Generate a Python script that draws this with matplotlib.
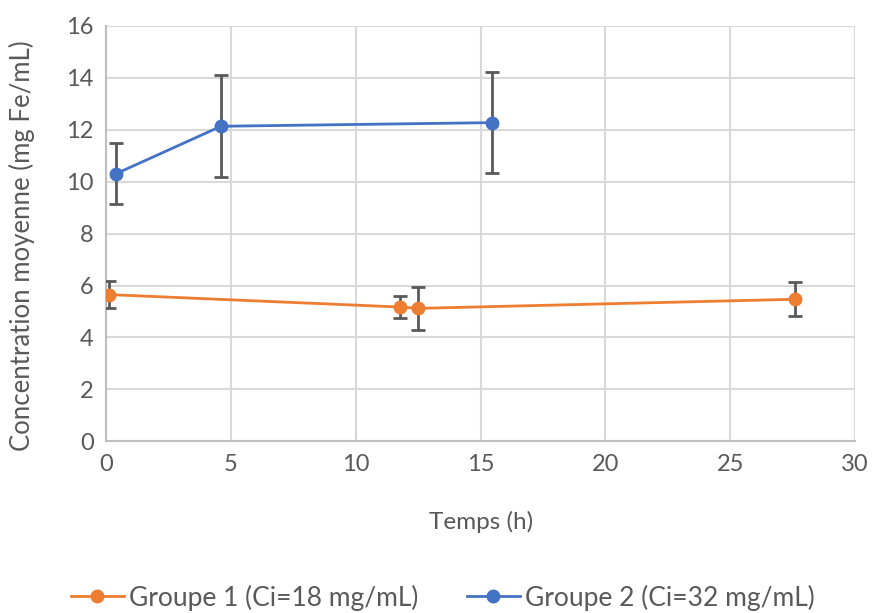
import matplotlib
matplotlib.use("Agg")
import matplotlib.pyplot as plt
from matplotlib.lines import Line2D

plt.rcParams['font.family'] = ['Lato', 'DejaVu Sans']

# Groupe 1 (Ci=18 mg/mL)
t1 = [0.12, 11.79, 12.51, 27.59]
c1 = [5.65, 5.17, 5.12, 5.47]
err1 = [0.53, 0.41, 0.83, 0.66]

# Groupe 2 (Ci=32 mg/mL)
t2 = [0.39, 4.6, 15.45]
c2 = [10.3, 12.13, 12.27]
err2 = [1.18, 1.97, 1.94]

labels = ["Groupe 1 (Ci=18 mg/mL)", "Groupe 2 (Ci=32 mg/mL)"]

orange = "#ED7D31"
blue = "#4472C4"
errcol = "#595959"
textcol = "#595959"

fig = plt.figure(figsize=(8.77, 6.13), dpi=100)
ax = fig.add_axes([0.121, 0.28, 0.854, 0.678])

ax.errorbar(t1, c1, yerr=err1, color=orange, marker="o", markersize=9, linewidth=2,
            ecolor=errcol, elinewidth=2, capsize=5, capthick=2, zorder=3)
ax.errorbar(t2, c2, yerr=err2, color=blue, marker="o", markersize=9, linewidth=2,
            ecolor=errcol, elinewidth=2, capsize=5, capthick=2, zorder=3)

ax.set_xlim(0, 30)
ax.set_ylim(0, 16)
ax.set_xticks(range(0, 31, 5))
ax.set_yticks(range(0, 17, 2))
ax.grid(True, color="#d9d9d9", linewidth=1.5)
ax.set_axisbelow(True)
for s in ["top", "right"]:
    ax.spines[s].set_visible(False)
for s in ["left", "bottom"]:
    ax.spines[s].set_color("#bfbfbf")
    ax.spines[s].set_linewidth(1.5)
ax.tick_params(length=0, labelsize=17, colors=textcol, pad=9)

ax.set_xlabel("Temps (h)", fontsize=17.5, color=textcol)
ax.set_ylabel("Concentration moyenne (mg Fe/mL)", fontsize=18.5, color=textcol)
ax.xaxis.set_label_coords(0.5, -0.195)
ax.yaxis.set_label_coords(-0.113, 0.47)
ax.xaxis.label.set_va("center")
ax.yaxis.label.set_va("center")

handles = [Line2D([], [], color=orange, marker="o", markersize=9, linewidth=2),
           Line2D([], [], color=blue, marker="o", markersize=9, linewidth=2)]
leg = fig.legend(handles, labels, loc="center", bbox_to_anchor=(0.505, 0.025), ncol=2,
                 frameon=False, fontsize=19, handlelength=2.0, columnspacing=1.85,
                 handletextpad=0.2)
for txt in leg.get_texts():
    txt.set_color(textcol)

fig.savefig("out.png", dpi=100)
